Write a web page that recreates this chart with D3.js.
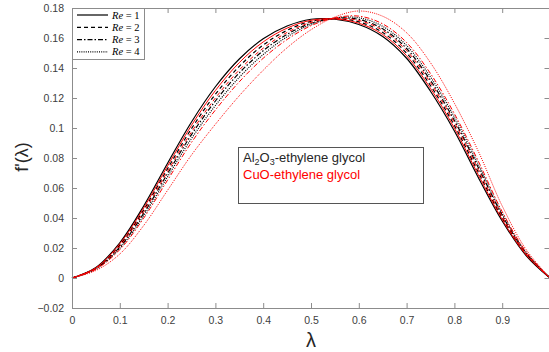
<!DOCTYPE html>
<html><head><meta charset="utf-8">
<script src="https://cdn.jsdelivr.net/npm/d3@7"></script>
<style>body{margin:0;background:#fff}svg{display:block}</style>
</head><body>
<script>
const lambda = [0,0.05,0.1,0.15,0.2,0.25,0.3,0.35,0.4,0.45,0.5,0.55,0.6,0.65,0.7,0.75,0.8,0.85,0.9,0.95,1];
// Al2O3-ethylene glycol (black)
const al_Re1 = [0,0.007,0.0235,0.048,0.0765,0.104,0.1275,0.146,0.1595,0.168,0.1725,0.1725,0.169,0.161,0.1465,0.1245,0.098,0.067,0.038,0.015,0];
const al_Re2 = [0,0.0066,0.022,0.0454,0.0729,0.0996,0.1225,0.1411,0.1553,0.1651,0.1711,0.1728,0.1708,0.1637,0.1499,0.1283,0.1017,0.0705,0.04,0.0158,0];
const al_Re3 = [0,0.0062,0.0207,0.0431,0.0697,0.0956,0.118,0.1367,0.1515,0.1625,0.1698,0.1731,0.1724,0.1661,0.153,0.1317,0.105,0.0737,0.0418,0.0165,0];
const al_Re4 = [0,0.006,0.0198,0.0415,0.0675,0.093,0.115,0.1338,0.149,0.1608,0.169,0.1733,0.1735,0.1678,0.155,0.134,0.1073,0.0758,0.043,0.017,0];
// CuO-ethylene glycol (red)
const cu_Re1 = [0,0.0068,0.0228,0.0467,0.0747,0.1018,0.125,0.1436,0.1574,0.1666,0.1718,0.1727,0.1699,0.1624,0.1482,0.1264,0.0999,0.0688,0.039,0.0154,0];
const cu_Re2 = [0,0.0064,0.0213,0.0441,0.0711,0.0974,0.12,0.1387,0.1532,0.1637,0.1704,0.173,0.1717,0.1651,0.1516,0.1302,0.1036,0.0723,0.041,0.0162,0];
const cu_Re3 = [0,0.0058,0.0189,0.0399,0.0653,0.0904,0.112,0.1308,0.1465,0.159,0.1682,0.1734,0.1746,0.1694,0.157,0.1363,0.1095,0.0779,0.0442,0.0175,0];
const cu_Re4 = [0,0.005,0.016,0.035,0.0585,0.082,0.1025,0.1215,0.1385,0.1535,0.1655,0.174,0.178,0.1745,0.1635,0.1435,0.1165,0.0845,0.048,0.019,0];

const xTicks = [0,0.1,0.2,0.3,0.4,0.5,0.6,0.7,0.8,0.9,1];
const yTicks = [-0.02,0,0.02,0.04,0.06,0.08,0.1,0.12,0.14,0.16,0.18];
const reLabels = ["1","2","3","4"];

const W=549,H=352;
const L=72,R=550,T=8,B=308;
const svg=d3.select("body").append("svg").attr("width",W).attr("height",H);
const x=d3.scaleLinear().domain([0,1]).range([L,R]);
const y=d3.scaleLinear().domain([-0.02,0.18]).range([B,T]);

const dashes=[null,"4,3","5,2,1.5,2","1,1.2"];
const series=[
  {d:al_Re1,c:"#000",s:0},{d:al_Re2,c:"#000",s:1},{d:al_Re3,c:"#000",s:2},{d:al_Re4,c:"#000",s:3},
  {d:cu_Re1,c:"#ff0000",s:0},{d:cu_Re2,c:"#ff0000",s:1},{d:cu_Re3,c:"#ff0000",s:2},{d:cu_Re4,c:"#ff0000",s:3}
];
const line=d3.line().x((d,i)=>x(lambda[i])).y(d=>y(d)).curve(d3.curveCatmullRom.alpha(0.5));
series.forEach(sr=>{
  svg.append("path").attr("d",line(sr.d)).attr("fill","none")
    .attr("stroke",sr.c).attr("stroke-width",sr.c==="#000"?1.2:1)
    .attr("stroke-dasharray",dashes[sr.s]);
});

// axes (MATLAB-style box, ticks inward)
const axCol="#8c8c8c", txtCol="#404040";
const gx=svg.append("g").attr("transform",`translate(0,${B})`)
  .call(d3.axisBottom(x).tickValues(xTicks).tickSize(-5).tickPadding(9).tickFormat(d=>d===1?"":d3.format("")(d)));
const gxt=svg.append("g").attr("transform",`translate(0,${T})`)
  .call(d3.axisTop(x).tickValues(xTicks).tickSize(-5).tickFormat(""));
const gy=svg.append("g").attr("transform",`translate(${L},0)`)
  .call(d3.axisLeft(y).tickValues(yTicks).tickSize(-5).tickPadding(8).tickFormat(d=>d===0?"0":d3.format("")(+d.toFixed(2))));
const gyr=svg.append("g").attr("transform",`translate(${R-0.5},0)`)
  .call(d3.axisRight(y).tickValues(yTicks).tickSize(-5).tickFormat(""));
[gx,gxt,gy,gyr].forEach(g=>{
  g.selectAll(".domain").attr("stroke",axCol);
  g.selectAll(".tick line").attr("stroke",axCol);
  g.selectAll("text").attr("fill",txtCol).style("font-family","Arial, Liberation Sans, sans-serif").style("font-size","10.5px");
});

// axis labels
svg.append("text").attr("x",311).attr("y",347).attr("text-anchor","middle")
  .style("font-family","Arial, Liberation Sans, sans-serif").style("font-size","20px").attr("fill","#262626").text("λ");
svg.append("text").attr("transform","translate(28,157) rotate(-90)").attr("text-anchor","middle")
  .style("font-family","Arial, Liberation Sans, sans-serif").style("font-size","18px").attr("fill","#262626").text("f'(λ)");

// legend
const lg=svg.append("g");
lg.append("rect").attr("x",72.5).attr("y",8.5).attr("width",72).attr("height",51)
  .attr("fill","#fff").attr("stroke","#8c8c8c").attr("stroke-width",1);
reLabels.forEach((r,i)=>{
  const yy=15+i*12.3;
  lg.append("line").attr("x1",77).attr("x2",108).attr("y1",yy).attr("y2",yy)
    .attr("stroke","#000").attr("stroke-width",1.2).attr("stroke-dasharray",dashes[i]);
  const t=lg.append("text").attr("x",112).attr("y",yy+3.5)
    .style("font-family","Liberation Serif, Times New Roman, serif").style("font-size","10.5px").attr("fill","#000");
  t.append("tspan").style("font-style","italic").text("Re");
  t.append("tspan").text(" = "+r);
});

// annotation box
const ab=svg.append("g");
ab.append("rect").attr("x",238.5).attr("y",147.5).attr("width",185).attr("height",56)
  .attr("fill","#fff").attr("stroke","#555").attr("stroke-width",1);
const t1=ab.append("text").attr("x",243).attr("y",162)
  .style("font-family","Arial, Liberation Sans, sans-serif").style("font-size","13px").attr("fill","#262626");
t1.append("tspan").text("Al");
t1.append("tspan").attr("dy",3).style("font-size","9px").text("2");
t1.append("tspan").attr("dy",-3).text("O");
t1.append("tspan").attr("dy",3).style("font-size","9px").text("3");
t1.append("tspan").attr("dy",-3).text("-ethylene glycol");
ab.append("text").attr("x",243).attr("y",179)
  .style("font-family","Arial, Liberation Sans, sans-serif").style("font-size","13px").attr("fill","#ff0000")
  .text("CuO-ethylene glycol");
</script>
</body></html>
